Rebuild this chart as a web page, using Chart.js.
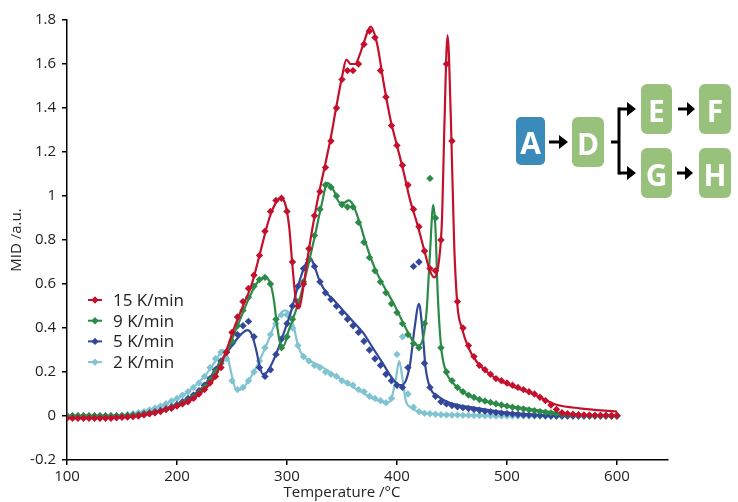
<!DOCTYPE html>
<html>
<head>
<meta charset="utf-8">
<script src="https://cdn.jsdelivr.net/npm/chart.js@4.4.1/dist/chart.umd.min.js"></script>
<style>
  html, body { margin: 0; padding: 0; background: #fff; }
  #wrap { position: relative; width: 738px; height: 502px; }
  #scheme { position: absolute; left: 0; top: 0; pointer-events: none; }
  #scheme text { font-family: 'Open Sans', sans-serif; font-weight: 700; font-size: 30px; fill: #fff; }
</style>
</head>
<body>
<div id="wrap">
  <canvas id="chart" width="738" height="502"></canvas>
  <svg id="scheme" width="738" height="502">
    <g>
      <rect x="516" y="117" width="29" height="48" rx="5" fill="#3A8BBA"/>
      <text x="530.5" y="142" text-anchor="middle" dominant-baseline="central">A</text>
      <rect x="572" y="117" width="32" height="50" rx="6" fill="#98C17B"/>
      <text x="588" y="143" text-anchor="middle" dominant-baseline="central">D</text>
      <rect x="641" y="84" width="31" height="50" rx="6" fill="#98C17B"/>
      <text x="656.5" y="110" text-anchor="middle" dominant-baseline="central">E</text>
      <rect x="699" y="84" width="32" height="50" rx="6" fill="#98C17B"/>
      <text x="715" y="110" text-anchor="middle" dominant-baseline="central">F</text>
      <rect x="641" y="148" width="31" height="50" rx="6" fill="#98C17B"/>
      <text x="656.5" y="174" text-anchor="middle" dominant-baseline="central">G</text>
      <rect x="699" y="148" width="32" height="50" rx="6" fill="#98C17B"/>
      <text x="715" y="174" text-anchor="middle" dominant-baseline="central">H</text>
    </g>
    <g stroke="#000" stroke-width="3" fill="none">
      <line x1="549" y1="142" x2="561" y2="142"/>
      <polyline points="611,142 619,142"/>
      <line x1="619" y1="107.5" x2="619" y2="174.5"/>
      <line x1="619" y1="109" x2="629" y2="109"/>
      <line x1="619" y1="173" x2="629" y2="173"/>
      <line x1="678" y1="109" x2="689" y2="109"/>
      <line x1="677" y1="173" x2="687" y2="173"/>
    </g>
    <g fill="#000">
      <polygon points="559,135 568,142 559,149"/>
      <polygon points="627,102 636,109 627,116"/>
      <polygon points="627,166 636,173 627,180"/>
      <polygon points="687,102 695,109 687,116"/>
      <polygon points="685,166 693,173 685,180"/>
    </g>
  </svg>
</div>
<script>
  // heating rates, legend order
  const seriesNames  = ['15 K/min', '9 K/min', '5 K/min', '2 K/min'];
  const seriesColors = ['#C4102C', '#2C8A48', '#33479A', '#80C3D1'];

  const xTicks = [100, 200, 300, 400, 500, 600];
  const yTicks = [-0.2, 0, 0.2, 0.4, 0.6, 0.8, 1, 1.2, 1.4, 1.6, 1.8];

  // measured points (diamonds), one value per temperature
  const markTemps = [
    100, 105, 110, 115, 120, 125, 130, 135, 140, 145, 150, 155, 160, 165, 170, 175,
    180, 185, 190, 195, 200, 205, 210, 215, 220, 225, 230, 235, 240, 245, 250, 255,
    260, 265, 270, 275, 280, 285, 290, 295, 300, 305, 310, 315, 320, 325, 330, 335,
    340, 345, 350, 355, 360, 365, 370, 375, 380, 385, 390, 395, 400, 405, 410, 415,
    420, 425, 430, 435, 440, 445, 450, 455, 460, 465, 470, 475, 480, 485, 490, 495,
    500, 505, 510, 515, 520, 525, 530, 535, 540, 545, 550, 555, 560, 565, 570, 575,
    580, 585, 590, 595, 600
  ];

  const mark15 = [
    -0.01, -0.01, -0.01, -0.01, -0.01, -0.01, -0.01, -0.01, -0.01, -0.008, -0.006, -0.005, -0.003,
    0, 0.005, 0.01, 0.015, 0.02, 0.03, 0.035, 0.045, 0.055, 0.065, 0.08, 0.1, 0.12,
    0.15, 0.18, 0.22, 0.29, 0.38, 0.45, 0.52, 0.58, 0.64, 0.73,
    0.84, 0.93, 0.98, 0.99, 0.93, 0.70, 0.50, 0.60, 0.76, 0.91,
    1.02, 1.13, 1.25, 1.40, 1.53, 1.57, 1.57, 1.60, 1.69, 1.75,
    1.72, 1.57, 1.45, 1.32, 1.23, 1.14, 1.05, 0.94, 0.86, 0.75,
    0.67, 0.66, 0.80, 1.60, 1.25, 0.52, 0.40, 0.32, 0.27, 0.23,
    0.21, 0.19, 0.17, 0.16, 0.15, 0.14, 0.13, 0.12, 0.11, 0.10,
    0.085, 0.07, 0.05, 0.03, 0.015, 0.01, 0.008, 0.006, 0.005, 0.004,
    0.003, 0.003, 0.002, 0.002, 0.002
  ];
  const mark9 = [
    0, 0, 0, 0, 0, 0, 0, 0, 0, 0, 0, 0,
    0.003, 0.005, 0.008, 0.012, 0.016, 0.022, 0.03, 0.038, 0.048,
    0.058, 0.07, 0.085, 0.105, 0.13, 0.16, 0.20, 0.24, 0.29, 0.34,
    0.41, 0.48, 0.54, 0.59, 0.62, 0.63, 0.60, 0.44, 0.31, 0.36,
    0.44, 0.52, 0.61, 0.71, 0.82, 0.94, 1.05, 1.04, 1.00, 0.96,
    0.95, 0.95, 0.88, 0.79, 0.72, 0.66, 0.61, 0.56, 0.51, 0.47,
    0.42, 0.37, 0.33, 0.31, 0.42, 1.08, 0.90, 0.31, 0.20, 0.16,
    0.13, 0.11, 0.095, 0.085, 0.075, 0.068, 0.062, 0.056, 0.05, 0.045,
    0.04, 0.036, 0.032, 0.028, 0.024, 0.02, 0.017, 0.014, 0.011, 0.009,
    0.007, 0.005, 0.004, 0.003, 0.002, 0.002, 0.001, 0.001, 0, 0
  ];
  const mark5 = [
    0, 0, 0, 0, 0, 0, 0, 0, 0, 0, 0,
    0.002, 0.004, 0.006, 0.01, 0.014, 0.019, 0.025, 0.033, 0.042, 0.052,
    0.065, 0.08, 0.095, 0.115, 0.14, 0.17, 0.21, 0.25, 0.29, 0.33,
    0.37, 0.41, 0.43, 0.36, 0.22, 0.18, 0.21, 0.28, 0.35, 0.42,
    0.50, 0.59, 0.67, 0.71, 0.68, 0.61, 0.56, 0.53, 0.50, 0.47,
    0.44, 0.41, 0.38, 0.34, 0.30, 0.26, 0.23, 0.19, 0.16, 0.14,
    0.13, 0.22, 0.68, 0.70, 0.24, 0.13, 0.09, 0.065, 0.055, 0.048,
    0.042, 0.038, 0.034, 0.03, 0.026, 0.022, 0.019, 0.016, 0.013, 0.011,
    0.009, 0.007, 0.005, 0.004, 0.003, 0.002, 0.001, 0, 0, 0,
    0, 0, 0, 0, 0, 0, 0, 0, 0, 0
  ];
  const mark2 = [
    0, 0, 0, 0, 0, 0, 0, 0, 0, 0,
    0.003, 0.006, 0.01, 0.015, 0.02, 0.027, 0.035, 0.045, 0.056, 0.068,
    0.08, 0.095, 0.11, 0.13, 0.15, 0.18, 0.22, 0.26, 0.29, 0.26,
    0.16, 0.12, 0.13, 0.16, 0.20, 0.25, 0.31, 0.37, 0.42, 0.46,
    0.46, 0.40, 0.32, 0.27, 0.25, 0.23, 0.22, 0.20, 0.19, 0.18,
    0.16, 0.15, 0.14, 0.12, 0.11, 0.09, 0.08, 0.07, 0.06, 0.08,
    0.28, 0.36, 0.10, 0.04, 0.02, 0.012, 0.01, 0.008, 0.006, 0.005,
    0.004, 0.004, 0.003, 0.003, 0.002, 0.002, 0.001, 0.001, 0, 0,
    0, 0, 0, 0, 0, 0, 0, 0, 0, 0,
    0, 0, 0, 0, 0, 0, 0, 0, 0, 0, 0
  ];

  // model curves, [temperature, MID]
  const fit15 = [
    [100, -0.01], [150, -0.006], [170, 0.004], [190, 0.03], [210, 0.065], [225, 0.12],
    [235, 0.18], [245, 0.30], [252, 0.40], [260, 0.50], [268, 0.60], [276, 0.75],
    [284, 0.90], [290, 0.97], [294, 0.99], [298, 0.97], [302, 0.86], [305, 0.68],
    [308, 0.53], [311, 0.49], [315, 0.59], [320, 0.76], [327, 0.96], [335, 1.15],
    [340, 1.27], [345, 1.41], [350, 1.54], [354, 1.62], [358, 1.60], [362, 1.60],
    [366, 1.64], [370, 1.70], [376, 1.77], [382, 1.69], [388, 1.51], [394, 1.35],
    [400, 1.23], [406, 1.11], [412, 0.98], [418, 0.88], [425, 0.75], [430, 0.66],
    [434, 0.63], [438, 0.70], [441, 0.90], [443, 1.30], [446, 1.73], [449, 1.35],
    [452, 0.78], [455, 0.50], [459, 0.40], [465, 0.31], [472, 0.25], [482, 0.20],
    [494, 0.16], [510, 0.125], [524, 0.10], [536, 0.07], [546, 0.05], [566, 0.035], [600, 0.02]
  ];
  const fit9 = [
    [100, 0], [160, 0.003], [180, 0.016], [200, 0.048], [220, 0.105], [235, 0.20],
    [245, 0.29], [255, 0.41], [265, 0.53], [272, 0.60], [280, 0.63], [285, 0.60],
    [288, 0.53], [291, 0.41], [294, 0.33], [297, 0.32], [301, 0.38], [306, 0.45],
    [312, 0.54], [319, 0.68], [325, 0.81], [331, 0.95], [337, 1.06], [343, 1.02],
    [348, 0.97], [352, 0.97], [356, 0.98], [360, 0.96], [366, 0.88], [372, 0.78],
    [380, 0.67], [388, 0.59], [396, 0.52], [403, 0.45], [410, 0.38], [416, 0.33],
    [420, 0.32], [424, 0.36], [427, 0.48], [430, 0.74], [433, 0.96], [435, 0.85],
    [437, 0.56], [440, 0.32], [444, 0.21], [451, 0.15], [463, 0.10], [478, 0.07],
    [494, 0.05], [515, 0.036], [545, 0.015], [570, 0.005], [600, 0]
  ];
  const fit5 = [
    [100, 0], [150, 0], [170, 0.01], [190, 0.033], [210, 0.08], [225, 0.14],
    [240, 0.25], [250, 0.32], [258, 0.37], [264, 0.39], [268, 0.37], [272, 0.30],
    [275, 0.23], [278, 0.19], [282, 0.20], [290, 0.28], [298, 0.39], [304, 0.48],
    [310, 0.59], [316, 0.68], [321, 0.72], [325, 0.68], [330, 0.61], [336, 0.56],
    [342, 0.53], [351, 0.48], [360, 0.43], [369, 0.38], [378, 0.31], [387, 0.24],
    [396, 0.17], [403, 0.14], [408, 0.16], [412, 0.24], [416, 0.40], [420, 0.51],
    [423, 0.40], [426, 0.22], [430, 0.13], [437, 0.09], [448, 0.06], [467, 0.04],
    [500, 0.015], [540, 0.003], [600, 0]
  ];
  const fit2 = [
    [100, 0], [145, 0], [170, 0.02], [190, 0.056], [210, 0.11], [225, 0.18],
    [235, 0.25], [242, 0.30], [246, 0.27], [250, 0.18], [254, 0.12], [258, 0.12],
    [265, 0.16], [272, 0.22], [282, 0.33], [291, 0.44], [298, 0.48], [302, 0.47],
    [306, 0.41], [310, 0.32], [315, 0.27], [321, 0.25], [333, 0.22], [348, 0.17],
    [364, 0.12], [378, 0.08], [391, 0.06], [395, 0.08], [399, 0.17], [402, 0.25],
    [405, 0.17], [408, 0.07], [412, 0.04], [420, 0.02], [440, 0.008], [480, 0.003],
    [520, 0], [600, 0]
  ];

  const markSeries = [mark15, mark9, mark5, mark2];
  const fitSeries  = [fit15, fit9, fit5, fit2];

  const textColor = '#222';
  const tickFont  = { family: "'Open Sans', sans-serif", size: 15 };

  const datasets = [];
  seriesNames.forEach((name, i) => {
    datasets.push({
      label: name + ' fit',
      data: fitSeries[i].map(p => ({ x: p[0], y: p[1] })),
      showLine: true,
      borderColor: seriesColors[i],
      borderWidth: 2.2,
      pointRadius: 0,
      cubicInterpolationMode: 'monotone',
      fill: false
    });
    datasets.push({
      label: name,
      data: markTemps.map((t, j) => ({ x: t, y: markSeries[i][j] })),
      showLine: false,
      pointStyle: 'rectRot',
      pointRadius: 3.7,
      pointBorderWidth: 0,
      backgroundColor: seriesColors[i],
      borderColor: seriesColors[i]
    });
  });

  // legend inside the plot (lower left) and x title centred on the 100-600 span
  const extras = {
    id: 'extras',
    afterDraw(chart) {
      const ctx = chart.ctx;
      const xs = chart.scales.x;
      ctx.save();
      ctx.font = "17px 'Open Sans', sans-serif";
      ctx.textBaseline = 'middle';
      seriesNames.forEach((name, i) => {
        const y = 300 + i * 20.7;
        ctx.strokeStyle = seriesColors[i];
        ctx.lineWidth = 2;
        ctx.beginPath();
        ctx.moveTo(88, y);
        ctx.lineTo(102, y);
        ctx.stroke();
        ctx.fillStyle = seriesColors[i];
        ctx.beginPath();
        ctx.moveTo(95, y - 3.7);
        ctx.lineTo(98.7, y);
        ctx.lineTo(95, y + 3.7);
        ctx.lineTo(91.3, y);
        ctx.closePath();
        ctx.fill();
        ctx.fillStyle = textColor;
        ctx.fillText(name, 113, y + 1);
      });

      ctx.font = "15px 'Open Sans', sans-serif";
      ctx.textAlign = 'center';
      ctx.fillStyle = textColor;
      const cx = (xs.getPixelForValue(xTicks[0]) + xs.getPixelForValue(xTicks[xTicks.length - 1])) / 2;
      ctx.fillText('Temperature /°C', cx, 493);
      ctx.restore();
    }
  };

  const axisGrid = {
    display: true,
    drawOnChartArea: false,
    drawTicks: true,
    tickLength: 5,
    color: '#000',
    lineWidth: 1.5
  };

  new Chart(document.getElementById('chart').getContext('2d'), {
    type: 'scatter',
    data: { datasets: datasets },
    options: {
      responsive: false,
      animation: false,
      devicePixelRatio: 1,
      layout: { padding: { top: 20, right: 70, left: 0, bottom: 0 } },
      plugins: {
        legend: { display: false },
        tooltip: { enabled: false }
      },
      scales: {
        x: {
          type: 'linear',
          min: 100,
          max: 646.4,
          afterBuildTicks: s => { s.ticks = xTicks.map(v => ({ value: v })); },
          afterFit: s => { s.height = 42; },
          ticks: { font: tickFont, color: textColor, padding: 3, maxRotation: 0 },
          grid: axisGrid,
          border: { color: '#000', width: 1.5 }
        },
        y: {
          type: 'linear',
          min: -0.2,
          max: 1.8,
          afterBuildTicks: s => { s.ticks = yTicks.map(v => ({ value: v })); },
          afterFit: s => { s.width = 67; },
          ticks: { font: tickFont, color: textColor, padding: 6, callback: v => String(v) },
          grid: axisGrid,
          border: { color: '#000', width: 1.5 },
          title: {
            display: true,
            text: 'MID /a.u.',
            font: tickFont,
            color: textColor,
            padding: { top: 8, bottom: 0 }
          }
        }
      }
    },
    plugins: [extras]
  });
</script>
</body>
</html>
